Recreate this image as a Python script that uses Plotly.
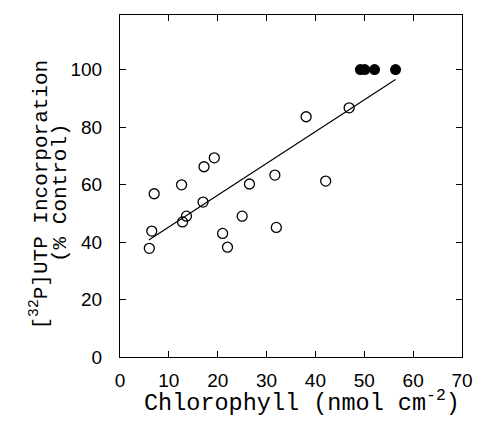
import plotly.graph_objects as go

# Open circles: chlorophyll vs incorporation
open_x = [6.0, 6.5, 7.0, 12.6, 12.8, 13.6, 17.0, 17.2, 19.3, 21.0, 22.0, 25.0, 26.5, 31.7, 32.0, 38.1, 42.1, 46.9]
open_y = [37.8, 43.8, 56.8, 59.9, 47.0, 49.0, 53.9, 66.2, 69.3, 43.0, 38.2, 49.0, 60.2, 63.3, 45.1, 83.6, 61.2, 86.7]

# Filled circles (controls at 100%)
filled_x = [49.2, 50.1, 52.1, 56.4]
filled_y = [100, 100, 100, 100]

# Regression line endpoints
fit_x = [5.9, 56.4]
fit_y = [40.7, 96.6]

x_ticks = [0, 10, 20, 30, 40, 50, 60, 70]
y_ticks = [0, 20, 40, 60, 80, 100]

x_title = "Chlorophyll (nmol cm<sup>-2</sup>)"
y_title_1 = "[<sup>32</sup>P]UTP Incorporation"
y_title_2 = "(% Control)"

fig = go.Figure()
fig.add_trace(go.Scatter(x=fit_x, y=fit_y, mode="lines",
                         line=dict(color="black", width=1.2), showlegend=False))
fig.add_trace(go.Scatter(x=open_x, y=open_y, mode="markers",
                         marker=dict(symbol="circle-open", size=10, color="black",
                                     line=dict(width=1.3, color="black")),
                         showlegend=False))
fig.add_trace(go.Scatter(x=filled_x, y=filled_y, mode="markers",
                         marker=dict(symbol="circle", size=11, color="black"),
                         showlegend=False))

tickfont = dict(family="Liberation Sans", size=19, color="black")
titlefont = dict(family="Liberation Mono", size=23.5, color="black")
ytitlefont = dict(family="Liberation Mono", size=21, color="black")

fig.update_xaxes(range=[0, 70], tickvals=x_ticks, ticks="inside", ticklen=6,
                 tickcolor="black", mirror="allticks", showline=True,
                 linecolor="black", linewidth=1.2, showgrid=False, zeroline=False,
                 tickfont=tickfont, ticklabelstandoff=6)
fig.update_yaxes(range=[0, 119], tickvals=y_ticks, ticks="inside", ticklen=6,
                 tickcolor="black", mirror="allticks", showline=True,
                 linecolor="black", linewidth=1.2, showgrid=False, zeroline=False,
                 tickfont=tickfont, ticklabelstandoff=13)

fig.add_annotation(text=x_title, xref="paper", yref="paper", x=0.532, y=-0.13,
                   xanchor="center", yanchor="middle", showarrow=False, font=titlefont)
fig.add_annotation(text=y_title_1, xref="paper", yref="paper", x=-0.235, y=0.474,
                   xanchor="center", yanchor="middle", textangle=-90, showarrow=False,
                   font=ytitlefont)
fig.add_annotation(text=y_title_2, xref="paper", yref="paper", x=-0.172, y=0.48,
                   xanchor="center", yanchor="middle", textangle=-90, showarrow=False,
                   font=ytitlefont)

fig.update_layout(width=485, height=424, plot_bgcolor="white", paper_bgcolor="white",
                  margin=dict(l=120, r=18, t=15, b=67))
fig.write_html("out.html")
